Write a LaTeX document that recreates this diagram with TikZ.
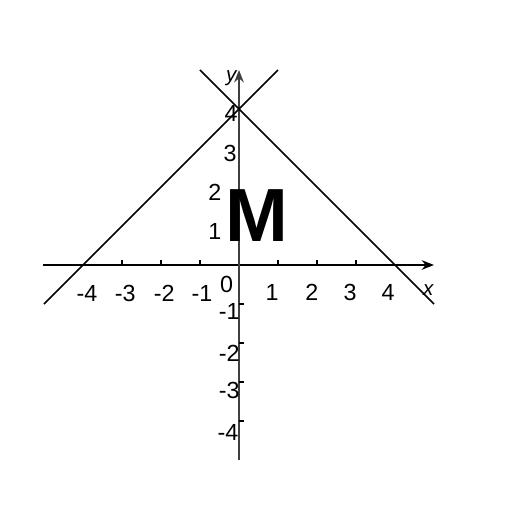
\documentclass[tikz,border=0pt]{standalone}
\usepackage{fontspec}
\setmainfont{Liberation Sans}
\usetikzlibrary{arrows.meta}
\begin{document}
\begin{tikzpicture}[
  axisline/.style={line width=1.1pt,-{Stealth[length=9pt,width=7pt]}},
  yaxisline/.style={line width=1.8pt,draw=black!75,-{Stealth[length=9pt,width=7pt]}},
  graphline/.style={line width=1.1pt},
  tick/.style={line width=0.9pt},
  lbl/.style={inner sep=0pt,font=\fontsize{17}{20}\selectfont},
  bigm/.style={inner sep=0pt,font=\fontsize{55}{60}\selectfont\bfseries}
]
\useasboundingbox[fill=white] (-6.128,-6.333) rectangle (7.0,6.795);
% axes
\coordinate (xs) at (-5.02,0);
\coordinate (xe) at (5.0,0);
\coordinate (ys) at (0,-5.0);
\coordinate (ye) at (0,5.0);
\draw[axisline] (xs) -- (xe);
\draw[yaxisline] (ys) -- (ye);
% ticks
\foreach \i in {-3,-2,-1,1,2,3}{
  \draw[tick] (\i,0) -- (\i,0.13);
}
\foreach \i in {-4,-3,-2,-1}{
  \draw[tick] (0,\i) -- (0.13,\i);
}
% graph lines
\coordinate (l1) at (-5,-1);
\coordinate (l2) at (1,5);
\coordinate (r1) at (-1,5);
\coordinate (r2) at (5,-1);
\draw[graphline] (l1) -- (l2);
\draw[graphline] (r1) -- (r2);
% x labels
\node[lbl] (xm4) at (-3.9,-0.72) {-4};
\node[lbl] (xm3) at (-2.92,-0.72) {-3};
\node[lbl] (xm2) at (-1.92,-0.72) {-2};
\node[lbl] (xm1) at (-0.95,-0.74) {-1};
\node[lbl] (org) at (-0.32,-0.5) {0};
\node[lbl] (xp1) at (0.85,-0.7) {1};
\node[lbl] (xp2) at (1.87,-0.7) {2};
\node[lbl] (xp3) at (2.85,-0.7) {3};
\node[lbl] (xp4) at (3.82,-0.7) {4};
% y labels
\node[lbl] (yp4) at (-0.2,3.88) {4};
\node[lbl] (yp3) at (-0.23,2.87) {3};
\node[lbl] (yp2) at (-0.62,1.85) {2};
\node[lbl] (yp1) at (-0.62,0.85) {1};
\node[lbl] (ym1) at (-0.25,-1.2) {-1};
\node[lbl] (ym2) at (-0.25,-2.26) {-2};
\node[lbl] (ym3) at (-0.25,-3.22) {-3};
\node[lbl] (ym4) at (-0.28,-4.3) {-4};
% axis names
\node[lbl,font=\itshape\fontsize{15}{18}\selectfont] (yname) at (-0.2,4.8) {y};
\node[lbl,font=\itshape\fontsize{15}{18}\selectfont] (xname) at (4.85,-0.64) {x};
% big M
\node[bigm] (bigM) at (0.45,1.28) {M};
\end{tikzpicture}
\end{document}
